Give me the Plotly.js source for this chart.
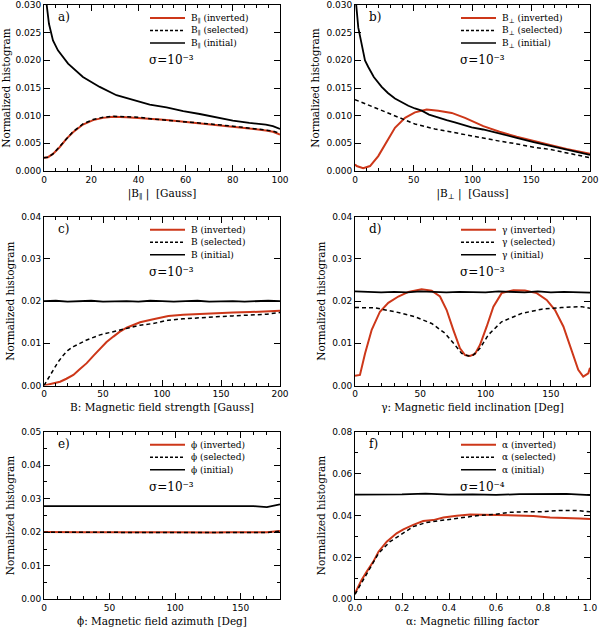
<!DOCTYPE html>
<html>
<head>
<meta charset="utf-8">
<script src="https://cdn.plot.ly/plotly-3.0.1.min.js"></script>
<style>
  body { margin: 0; background: #fff; }
  #plot { width: 600px; height: 628px; }
</style>
</head>
<body>
<div id="plot"></div>
<script>
// ---- panel a: |B_par| ----
const aInitX = [0, 1, 2.1, 3.8, 5.9, 10.2, 16.5, 23.6, 30.7, 37.8, 44.8, 51.9, 59, 66, 73, 80, 87, 94, 97, 100];
const aInitY = [0.036, 0.0305, 0.0266, 0.0236, 0.0218, 0.0194, 0.0170, 0.0152, 0.0137, 0.0128, 0.0120, 0.0115, 0.0108, 0.0103, 0.0097, 0.0091, 0.0087, 0.0084, 0.0081, 0.0076];
const aInvX = [0, 1.7, 3.8, 6.6, 9.5, 12.3, 16.5, 20.8, 25, 29.3, 35, 40.6, 46, 52, 59, 66, 73, 80, 87, 94, 97, 100];
const aInvY = [0.0024, 0.0025, 0.0031, 0.0043, 0.0058, 0.0070, 0.0084, 0.0092, 0.0096, 0.0098, 0.0097, 0.0096, 0.0094, 0.0092, 0.0089, 0.0087, 0.0084, 0.0081, 0.0077, 0.0073, 0.0071, 0.0066];
const aSelY = [0.0024, 0.0025, 0.0031, 0.0044, 0.0059, 0.0071, 0.0085, 0.0093, 0.0097, 0.0099, 0.0098, 0.0097, 0.0094, 0.0092, 0.0090, 0.0087, 0.0084, 0.0081, 0.0078, 0.0074, 0.0072, 0.0068];

// ---- panel b: |B_perp| ----
const bInitX = [0, 1, 2.8, 5.7, 8.5, 11.3, 16, 22.7, 28, 34, 40, 45.4, 51, 56.8, 63, 70.9, 78, 85, 92, 99.3, 109, 123, 137.6, 152, 166, 180, 194, 200];
const bInitY = [0.034, 0.0301, 0.0259, 0.0229, 0.0200, 0.0188, 0.0170, 0.0152, 0.0141, 0.0131, 0.0124, 0.0118, 0.0113, 0.0109, 0.0102, 0.0096, 0.0092, 0.0088, 0.0083, 0.0079, 0.0075, 0.0068, 0.0060, 0.0052, 0.0045, 0.0039, 0.0032, 0.0029];
const bSelX = [0, 17, 34, 51, 68, 85, 109, 123, 137.6, 152, 166, 180, 194, 200];
const bSelY = [0.0129, 0.0114, 0.0099, 0.0085, 0.0076, 0.0069, 0.0059, 0.0054, 0.0049, 0.0043, 0.0039, 0.0033, 0.0027, 0.0024];
const bInvX = [0, 1.4, 7, 12.8, 19.8, 27, 34, 42.6, 51, 61, 70.9, 82.3, 93.6, 109.2, 123, 137.6, 152, 166, 180, 194, 200];
const bInvY = [0.0012, 0.0009, 0.0005, 0.0009, 0.0027, 0.0054, 0.0078, 0.0096, 0.0106, 0.0111, 0.0109, 0.0105, 0.0096, 0.0081, 0.0071, 0.0062, 0.0054, 0.0047, 0.0040, 0.0034, 0.0031];

// ---- panel c: B ----
const cInitX = [0, 10, 20, 30, 40, 50, 60, 70, 80, 90, 100, 110, 120, 130, 140, 150, 160, 170, 180, 190, 200];
const cInitY = [0.0200, 0.0201, 0.0199, 0.0200, 0.0201, 0.0199, 0.0200, 0.0200, 0.0199, 0.0201, 0.0200, 0.0199, 0.0200, 0.0201, 0.0199, 0.0200, 0.0200, 0.0199, 0.0200, 0.0201, 0.0200];
const cInvX = [0, 5, 13.6, 19, 24.9, 30, 36.2, 42, 47.5, 53, 58.8, 64, 70, 75.6, 81.4, 92.6, 105.4, 117.9, 132.1, 146.3, 160.4, 174.5, 188.7, 200];
const cInvY = [0.0000, 0.0003, 0.0009, 0.0016, 0.0025, 0.0038, 0.0053, 0.0071, 0.0088, 0.0103, 0.0116, 0.0127, 0.0137, 0.0144, 0.0150, 0.0157, 0.0165, 0.0168, 0.0170, 0.0172, 0.0173, 0.0174, 0.0175, 0.0177];
const cSelX = [0, 3, 7.9, 12, 16.4, 20, 24.9, 30, 36.2, 47.5, 58.8, 70, 81.4, 92.6, 105.4, 118, 132, 146, 160, 174.5, 188.7, 200];
const cSelY = [0.0000, 0.0014, 0.0037, 0.0056, 0.0072, 0.0083, 0.0092, 0.0100, 0.0108, 0.0120, 0.0128, 0.0135, 0.0143, 0.0147, 0.0155, 0.0158, 0.0161, 0.0163, 0.0165, 0.0167, 0.0169, 0.0173];

// ---- panel d: gamma ----
const dInitX = [0, 10, 20, 30, 40, 50, 60, 70, 80, 90, 100, 110, 120, 130, 140, 150, 160, 170, 180];
const dInitY = [0.0223, 0.0222, 0.0221, 0.0222, 0.0221, 0.0223, 0.0222, 0.0221, 0.0222, 0.0222, 0.0221, 0.0223, 0.0222, 0.0221, 0.0223, 0.0221, 0.0222, 0.0221, 0.0220];
const dInvX = [0, 3.8, 7.7, 12.8, 19.1, 25.5, 33.2, 40.9, 51, 58.7, 65.1, 70.2, 75.3, 80.4, 84.3, 88.1, 91.9, 95.7, 100.9, 106, 112.3, 121.3, 130.2, 139.2, 146.8, 153.2, 159.6, 166, 171, 174.8, 178.7, 180];
const dInvY = [0.0023, 0.0025, 0.0076, 0.0132, 0.0175, 0.0196, 0.0211, 0.0222, 0.0228, 0.0225, 0.0211, 0.0179, 0.0132, 0.0088, 0.0072, 0.0070, 0.0075, 0.0096, 0.0140, 0.0187, 0.0219, 0.0226, 0.0225, 0.0219, 0.0203, 0.0179, 0.0140, 0.0084, 0.0037, 0.0021, 0.0029, 0.0042];
const dSelX = [0, 15.3, 30.6, 45.9, 58.7, 68.9, 76.6, 81.7, 86.8, 90.6, 95.7, 102.1, 112.3, 127.7, 143, 158.3, 173.6, 180];
const dSelY = [0.0185, 0.0184, 0.0175, 0.0163, 0.0147, 0.0124, 0.0096, 0.0076, 0.0070, 0.0072, 0.0088, 0.0120, 0.0151, 0.0171, 0.0181, 0.0185, 0.0187, 0.0183];

// ---- panel e: phi ----
const eX = [0, 10, 20, 30, 40, 50, 60, 70, 80, 90, 100, 110, 120, 130, 140, 150, 160, 170, 180];
const eInitY = [0.0278, 0.0278, 0.0277, 0.0278, 0.0278, 0.0278, 0.0278, 0.0277, 0.0278, 0.0279, 0.0278, 0.0278, 0.0277, 0.0278, 0.0278, 0.0277, 0.0278, 0.0275, 0.0283];
const eInvY = [0.0201, 0.0200, 0.0199, 0.0200, 0.0200, 0.0201, 0.0200, 0.0200, 0.0199, 0.0200, 0.0200, 0.0199, 0.0200, 0.0199, 0.0200, 0.0200, 0.0199, 0.0200, 0.0204];
const eSelY = [0.0200, 0.0200, 0.0199, 0.0200, 0.0201, 0.0200, 0.0200, 0.0199, 0.0200, 0.0200, 0.0199, 0.0200, 0.0200, 0.0199, 0.0200, 0.0199, 0.0200, 0.0199, 0.0203];

// ---- panel f: alpha ----
const fInitX = [0, 0.1, 0.2, 0.3, 0.4, 0.5, 0.6, 0.7, 0.8, 0.9, 1.0];
const fInitY = [0.0500, 0.0499, 0.0501, 0.0504, 0.0500, 0.0501, 0.0498, 0.0502, 0.0501, 0.0503, 0.0497];
const fInvX = [0, 0.028, 0.05, 0.078, 0.1, 0.135, 0.177, 0.206, 0.248, 0.29, 0.333, 0.376, 0.433, 0.49, 0.546, 0.617, 0.688, 0.759, 0.83, 0.9, 0.957, 1.0];
const fInvY = [0.0029, 0.0092, 0.0132, 0.0180, 0.0227, 0.0275, 0.0315, 0.0334, 0.0355, 0.0374, 0.0378, 0.0390, 0.0399, 0.0405, 0.0404, 0.0402, 0.0402, 0.0398, 0.0391, 0.0390, 0.0386, 0.0383];
const fSelX = [0, 0.05, 0.1, 0.149, 0.191, 0.248, 0.305, 0.376, 0.447, 0.518, 0.589, 0.66, 0.73, 0.8, 0.872, 0.943, 1.0];
const fSelY = [0.0024, 0.0124, 0.0219, 0.0275, 0.0307, 0.0347, 0.0367, 0.0378, 0.0390, 0.0399, 0.0405, 0.0415, 0.0418, 0.0418, 0.0424, 0.0424, 0.0418];

// ---- labels ----
const panelTags = ['a)', 'b)', 'c)', 'd)', 'e)', 'f)'];
const symbols = ['B<sub>∥</sub>', 'B<sub>⊥</sub>', 'B', 'γ', 'ϕ', 'α'];
const xTitles = [
  '|B<sub>∥</sub> |  [Gauss]',
  '|B<sub>⊥</sub> |  [Gauss]',
  'B: Magnetic field strength [Gauss]',
  'γ: Magnetic field inclination [Deg]',
  'ϕ: Magnetic field azimuth [Deg]',
  'α: Magnetic filling factor',
];
const sigmaTexts = ['σ=10⁻³', 'σ=10⁻³', 'σ=10⁻³', 'σ=10⁻³', 'σ=10⁻³', 'σ=10⁻⁴'];

const RED = 'rgb(205, 55, 25)';
const TXT = 'DejaVu Serif';
const NUM = 'DejaVu Sans';

// per panel: series + axis settings (upper ends nudged so the top tick is kept)
const panels = [
  { inv: [aInvX, aInvY], sel: [aInvX, aSelY], init: [aInitX, aInitY],
    xr: [0, 100], xd: 20, xm: 5, yr: [0, 0.030001], yd: 0.005, ym: null, yf: '.3f', xf: 'd' },
  { inv: [bInvX, bInvY], sel: [bSelX, bSelY], init: [bInitX, bInitY],
    xr: [0, 200], xd: 50, xm: 10, yr: [0, 0.030001], yd: 0.005, ym: null, yf: '.3f', xf: 'd' },
  { inv: [cInvX, cInvY], sel: [cSelX, cSelY], init: [cInitX, cInitY],
    xr: [0, 200], xd: 50, xm: 10, yr: [0, 0.040001], yd: 0.01, ym: null, yf: '.2f', xf: 'd' },
  { inv: [dInvX, dInvY], sel: [dSelX, dSelY], init: [dInitX, dInitY],
    xr: [0, 180], xd: 50, xm: 10, yr: [0, 0.040001], yd: 0.01, ym: null, yf: '.2f', xf: 'd' },
  { inv: [eX, eInvY], sel: [eX, eSelY], init: [eX, eInitY],
    xr: [0, 180], xd: 50, xm: 10, yr: [0, 0.050001], yd: 0.01, ym: 0.005, yf: '.2f', xf: 'd' },
  { inv: [fInvX, fInvY], sel: [fSelX, fSelY], init: [fInitX, fInitY],
    xr: [0, 1.000001], xd: 0.2, xm: 0.05, yr: [0, 0.080001], yd: 0.02, ym: 0.01, yf: '.2f', xf: '.1f' },
];

// pixel frame of the six boxes (600 x 628 page)
const colLeft = [44, 355];
const colWidth = [236, 235];
const rowTop = [5, 216.8, 431.7];
const rowHeight = [166, 168.7, 167.6];
const W = 600, H = 628;

const data = [];
const layout = {
  width: W,
  height: H,
  margin: { l: 0, r: 0, t: 0, b: 0 },
  paper_bgcolor: 'white',
  plot_bgcolor: 'white',
  showlegend: false,
  annotations: [],
  shapes: [],
};

panels.forEach((p, i) => {
  const n = i === 0 ? '' : String(i + 1);
  const xa = 'x' + n, ya = 'y' + n;
  const col = i % 2, row = Math.floor(i / 2);
  const left = colLeft[col], w = colWidth[col];
  const top = rowTop[row], h = rowHeight[row];

  const base = {
    showline: true, linecolor: 'black', linewidth: 1, mirror: 'ticks',
    ticks: 'inside', ticklen: 6, tickwidth: 1, tickcolor: 'black',
    showgrid: false, zeroline: false,
    tickfont: { family: NUM, size: 9, color: 'black' },
  };

  layout['xaxis' + n] = Object.assign({}, base, {
    domain: [left / W, (left + w) / W],
    anchor: ya, range: p.xr, dtick: p.xd, tick0: 0, tickformat: p.xf,
    minor: { dtick: p.xm, ticks: 'inside', ticklen: 3, tickcolor: 'black' },
    title: { text: xTitles[i], font: { family: TXT, size: 10.5, color: 'black' }, standoff: 5 },
  });
  const yax = Object.assign({}, base, {
    domain: [1 - (top + h) / H, 1 - top / H],
    anchor: xa, range: p.yr, dtick: p.yd, tick0: 0, tickformat: p.yf,
    title: { text: 'Normalized histogram', font: { family: TXT, size: 10.5, color: 'black' }, standoff: 4 },
  });
  if (p.ym) yax.minor = { dtick: p.ym, ticks: 'inside', ticklen: 3, tickcolor: 'black' };
  layout['yaxis' + n] = yax;

  data.push({ x: p.inv[0], y: p.inv[1], xaxis: xa, yaxis: ya, mode: 'lines',
    line: { color: RED, width: 2 }, name: 'inverted' });
  data.push({ x: p.sel[0], y: p.sel[1], xaxis: xa, yaxis: ya, mode: 'lines',
    line: { color: 'black', width: 1.5, dash: '4px,3px' }, name: 'selected' });
  data.push({ x: p.init[0], y: p.init[1], xaxis: xa, yaxis: ya, mode: 'lines',
    line: { color: 'black', width: 1.8 }, name: 'initial' });

  // helpers: pixel offset inside the box -> domain fraction
  const fx = (px) => px / w;
  const fy = (py) => 1 - py / h;
  const xref = xa + ' domain', yref = ya + ' domain';

  layout.annotations.push({
    xref, yref, x: fx(12), y: fy(12), text: panelTags[i], showarrow: false,
    xanchor: 'left', yanchor: 'middle', font: { family: TXT, size: 12, color: 'black' },
  });

  // hand-drawn legend, IDL style
  const keys = [
    { label: ' (inverted)', line: { color: RED, width: 2 } },
    { label: ' (selected)', line: { color: 'black', width: 1.5, dash: '3px,2px' } },
    { label: ' (initial)', line: { color: 'black', width: 1.5 } },
  ];
  const rows = [13, 25.5, 38];
  keys.forEach((k, j) => {
    layout.shapes.push({
      type: 'line', xref, yref,
      x0: fx(106), x1: fx(141), y0: fy(rows[j]), y1: fy(rows[j]),
      line: k.line,
    });
    layout.annotations.push({
      xref, yref, x: fx(145), y: fy(rows[j]), text: symbols[i] + k.label,
      showarrow: false, xanchor: 'left', yanchor: 'middle',
      font: { family: TXT, size: 9, color: 'black' },
    });
  });
  layout.annotations.push({
    xref, yref, x: fx(103), y: fy(55), text: sigmaTexts[i], showarrow: false,
    xanchor: 'left', yanchor: 'middle', font: { family: TXT, size: 12, color: 'black' },
  });
});

const config = { displayModeBar: false };

Plotly.newPlot('plot', data, layout, config);
</script>
</body>
</html>
